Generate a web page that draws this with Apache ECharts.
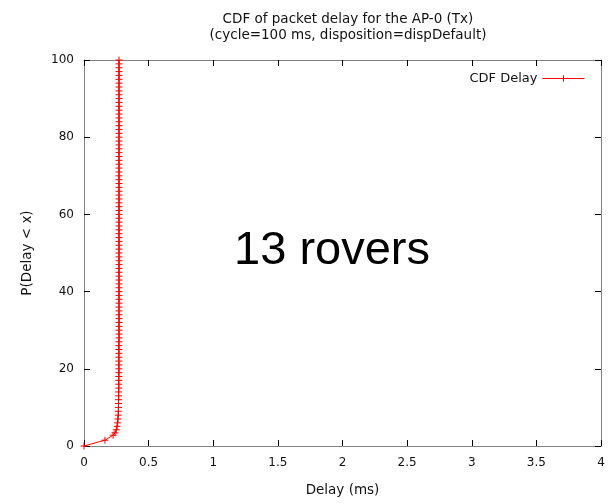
<!DOCTYPE html>
<html>
<head>
<meta charset="utf-8">
<script src="https://cdn.jsdelivr.net/npm/echarts@6/dist/echarts.min.js"></script>
<style>
  html, body { margin: 0; padding: 0; background: #fff; }
  #chart { width: 616px; height: 504px; }
</style>
</head>
<body>
<div id="chart"></div>
<script>
// Packet delay CDF for AP-0 (Tx)
const chartTitle = 'CDF of packet delay for the AP-0 (Tx)\n(cycle=100 ms, disposition=dispDefault)';
const seriesName = 'CDF Delay';
const annotation = '13 rovers';

// Delay samples (ms) and cumulative probability (%)
const delayMs = [
  0, 0.162, 0.225, 0.240, 0.250, 0.256, 0.260, 0.263, 0.265, 0.266,
  0.267, 0.267, 0.268, 0.268, 0.268, 0.269, 0.269, 0.269, 0.269, 0.270,
  0.270, 0.270, 0.270, 0.270, 0.270, 0.270, 0.270, 0.270, 0.271, 0.271,
  0.271, 0.271, 0.271, 0.271, 0.271, 0.271, 0.271, 0.271, 0.271, 0.271,
  0.271, 0.271, 0.271, 0.271, 0.271, 0.271, 0.271, 0.271, 0.271, 0.271,
  0.271, 0.271, 0.271, 0.271, 0.271, 0.271, 0.271, 0.271, 0.271, 0.271,
  0.271, 0.271, 0.271, 0.271, 0.271, 0.271, 0.271, 0.271, 0.271, 0.271,
  0.271, 0.271, 0.271, 0.271, 0.271, 0.271, 0.271, 0.271, 0.271, 0.271,
  0.271, 0.271, 0.271, 0.271, 0.271, 0.271, 0.271, 0.271, 0.271, 0.271,
  0.271, 0.271, 0.271, 0.271, 0.271, 0.271, 0.271, 0.271, 0.271, 0.271,
  0.271
];
const cdfPercent = [
  0, 1.5, 2.8, 3.4, 4.2, 5.1, 6.0, 7.0, 8.0, 9.0,
  10.0, 11.0, 12.0, 13.0, 14.0, 15.0, 16.0, 17.0, 18.0, 19.0,
  20.0, 21.0, 22.0, 23.0, 24.0, 25.0, 26.0, 27.0, 28.0, 29.0,
  30.0, 31.0, 32.0, 33.0, 34.0, 35.0, 36.0, 37.0, 38.0, 39.0,
  40.0, 41.0, 42.0, 43.0, 44.0, 45.0, 46.0, 47.0, 48.0, 49.0,
  50.0, 51.0, 52.0, 53.0, 54.0, 55.0, 56.0, 57.0, 58.0, 59.0,
  60.0, 61.0, 62.0, 63.0, 64.0, 65.0, 66.0, 67.0, 68.0, 69.0,
  70.0, 71.0, 72.0, 73.0, 74.0, 75.0, 76.0, 77.0, 78.0, 79.0,
  80.0, 81.0, 82.0, 83.0, 84.0, 85.0, 86.0, 87.0, 88.0, 89.0,
  90.0, 91.0, 92.0, 93.0, 94.0, 95.0, 96.0, 97.0, 98.0, 99.0,
  100.0
];

// Axis ranges
const xRange = { min: 0, max: 4, interval: 0.5 };
const yRange = { min: 0, max: 100, interval: 20 };

const points = delayMs.map((d, i) => [d, cdfPercent[i]]);

const FONT = '"DejaVu Sans", "Liberation Sans", sans-serif';
const frameColor = '#808080';
const crossSymbol = 'path://M0,5L10,5M5,0L5,10';

const tickStyle = { show: true, inside: true, length: 6, lineStyle: { color: '#000', width: 1 } };
const frameLine = { show: true, onZero: false, lineStyle: { color: frameColor, width: 1 } };
const tickLabel = { color: '#111', fontFamily: FONT, fontSize: 12 };
const nameStyle = { fontFamily: FONT, fontSize: 13.5, color: '#111' };

const chart = echarts.init(document.getElementById('chart'), null, { renderer: 'canvas' });

chart.setOption({
  animation: false,
  backgroundColor: '#fff',
  title: {
    text: chartTitle,
    left: 343,
    top: 6,
    textAlign: 'center',
    textStyle: { fontFamily: FONT, fontSize: 13.5, fontWeight: 'normal', color: '#111', lineHeight: 16 }
  },
  grid: { left: 84, right: 15, top: 60, bottom: 58 },
  legend: {
    data: [seriesName],
    right: 26,
    top: 67,
    align: 'right',
    itemWidth: 42,
    itemHeight: 8,
    itemGap: 8,
    lineStyle: { width: 1 },
    itemStyle: { borderWidth: 1 },
    textStyle: { fontFamily: FONT, fontSize: 13, color: '#111' }
  },
  xAxis: [
    {
      type: 'value', position: 'bottom', ...xRange,
      name: 'Delay (ms)', nameLocation: 'middle', nameGap: 37,
      nameTextStyle: nameStyle,
      axisLine: frameLine, axisTick: tickStyle,
      axisLabel: { ...tickLabel, margin: 11 },
      splitLine: { show: false }
    },
    {
      type: 'value', position: 'top', ...xRange,
      axisLine: frameLine, axisTick: tickStyle,
      axisLabel: { show: false }, splitLine: { show: false }
    }
  ],
  yAxis: [
    {
      type: 'value', position: 'left', ...yRange,
      name: 'P(Delay < x)', nameLocation: 'middle', nameGap: 50,
      nameTextStyle: nameStyle,
      axisLine: frameLine, axisTick: tickStyle,
      axisLabel: { ...tickLabel, margin: 10 },
      splitLine: { show: false }
    },
    {
      type: 'value', position: 'right', ...yRange,
      axisLine: frameLine, axisTick: tickStyle,
      axisLabel: { show: false }, splitLine: { show: false }
    }
  ],
  graphic: [
    {
      type: 'text',
      x: 332, y: 251,
      style: {
        text: annotation,
        font: '47px "Liberation Sans", Arial, sans-serif',
        fill: '#000',
        textAlign: 'center',
        textVerticalAlign: 'middle'
      }
    }
  ],
  series: [
    {
      name: seriesName,
      type: 'line',
      xAxisIndex: 0,
      yAxisIndex: 0,
      data: points,
      symbol: crossSymbol,
      symbolSize: 7,
      showAllSymbol: true,
      lineStyle: { color: '#ff0000', width: 1 },
      itemStyle: { color: '#ff0000', borderColor: '#ff0000', borderWidth: 1 },
      emphasis: { disabled: true }
    }
  ]
});
</script>
</body>
</html>
